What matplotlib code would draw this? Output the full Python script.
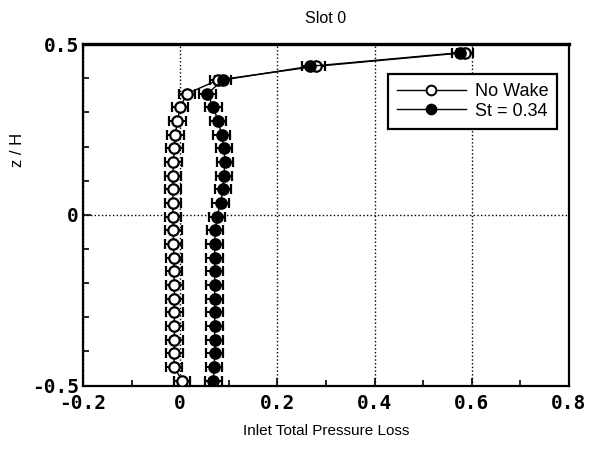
import numpy as np
import matplotlib
matplotlib.use("Agg")
import matplotlib.pyplot as plt
from matplotlib.ticker import MultipleLocator
from matplotlib.lines import Line2D

# spanwise positions (z/H), top to bottom
z = [0.475, 0.435, 0.395, 0.355, 0.315, 0.275, 0.235, 0.195, 0.155, 0.115,
     0.075, 0.035, -0.005, -0.045, -0.085, -0.125, -0.165, -0.205, -0.245,
     -0.285, -0.325, -0.365, -0.405, -0.445, -0.485]

# inlet total pressure loss
no_wake = [0.586, 0.280, 0.078, 0.014, 0.000, -0.006, -0.010, -0.012, -0.014,
           -0.015, -0.015, -0.015, -0.015, -0.014, -0.014, -0.013, -0.013,
           -0.012, -0.012, -0.012, -0.012, -0.012, -0.012, -0.013, 0.004]
st_034 = [0.576, 0.267, 0.088, 0.056, 0.068, 0.078, 0.085, 0.090, 0.092,
          0.090, 0.088, 0.083, 0.076, 0.072, 0.071, 0.071, 0.071, 0.071,
          0.071, 0.071, 0.071, 0.071, 0.071, 0.070, 0.068]
err = 0.017

xticks = [-0.2, 0, 0.2, 0.4, 0.6, 0.8]
xtick_labels = ["-0.2", "0", "0.2", "0.4", "0.6", "0.8"]
yticks = [-0.5, 0, 0.5]
ytick_labels = ["-0.5", "0", "0.5"]

fig = plt.figure(figsize=(5.93, 4.5), dpi=100)
ax = fig.add_axes([0.140, 0.143, 0.8195, 0.759])

ax.errorbar(no_wake, z, xerr=err, color="black", lw=1, marker="o", ms=7.5,
            mfc="white", mec="black", mew=1.6, capsize=3.5, elinewidth=1.4,
            capthick=1.4, zorder=3)
ax.errorbar(st_034, z, xerr=err, color="black", lw=1, marker="o", ms=7.5,
            mfc="black", mec="black", mew=1.6, capsize=3.5, elinewidth=1.4,
            capthick=1.4, zorder=3)

ax.set_xlim(-0.2, 0.8)
ax.set_ylim(-0.5, 0.5)
ax.set_xticks(xticks)
ax.set_xticklabels(xtick_labels, family="DejaVu Sans Mono", weight="bold", fontsize=14)
ax.set_yticks(yticks)
ax.set_yticklabels(ytick_labels, family="DejaVu Sans Mono", weight="bold", fontsize=14)
ax.xaxis.set_minor_locator(MultipleLocator(0.1))
ax.yaxis.set_minor_locator(MultipleLocator(0.1))
ax.tick_params(which="both", direction="in", color="black")
ax.tick_params(which="major", length=6, width=1.2, pad=6)
ax.tick_params(which="minor", length=4, width=1.2)
ax.tick_params(axis="y", pad=3)

ax.grid(True, which="major", linestyle=":", color="black", lw=1)

for side in ["left", "bottom", "right"]:
    ax.spines[side].set_linewidth(1.6)
ax.spines["top"].set_linewidth(2.4)

ax.set_title("Slot 0", family="Liberation Sans", fontsize=11.5, pad=15)
ax.set_xlabel("Inlet Total Pressure Loss", family="Liberation Sans", fontsize=11, labelpad=8)
ax.set_ylabel("z / H", family="Liberation Sans", fontsize=12)
ax.yaxis.set_label_coords(-0.12, 0.69)

handles = [
    Line2D([], [], color="black", lw=1, marker="o", ms=7, mfc="white", mec="black", mew=1.4),
    Line2D([], [], color="black", lw=1, marker="o", ms=7, mfc="black", mec="black", mew=1.4),
]
leg = ax.legend(handles, ["No Wake", "St = 0.34"], loc="upper right",
                bbox_to_anchor=(0.976, 0.913), frameon=True,
                fancybox=False, edgecolor="black", framealpha=1,
                prop={"family": "Liberation Sans", "size": 13},
                handlelength=3.8, borderpad=0.5, labelspacing=0.15,
                handletextpad=0.5, borderaxespad=0)
leg.get_frame().set_linewidth(1.6)

fig.savefig("out.png", dpi=100)
